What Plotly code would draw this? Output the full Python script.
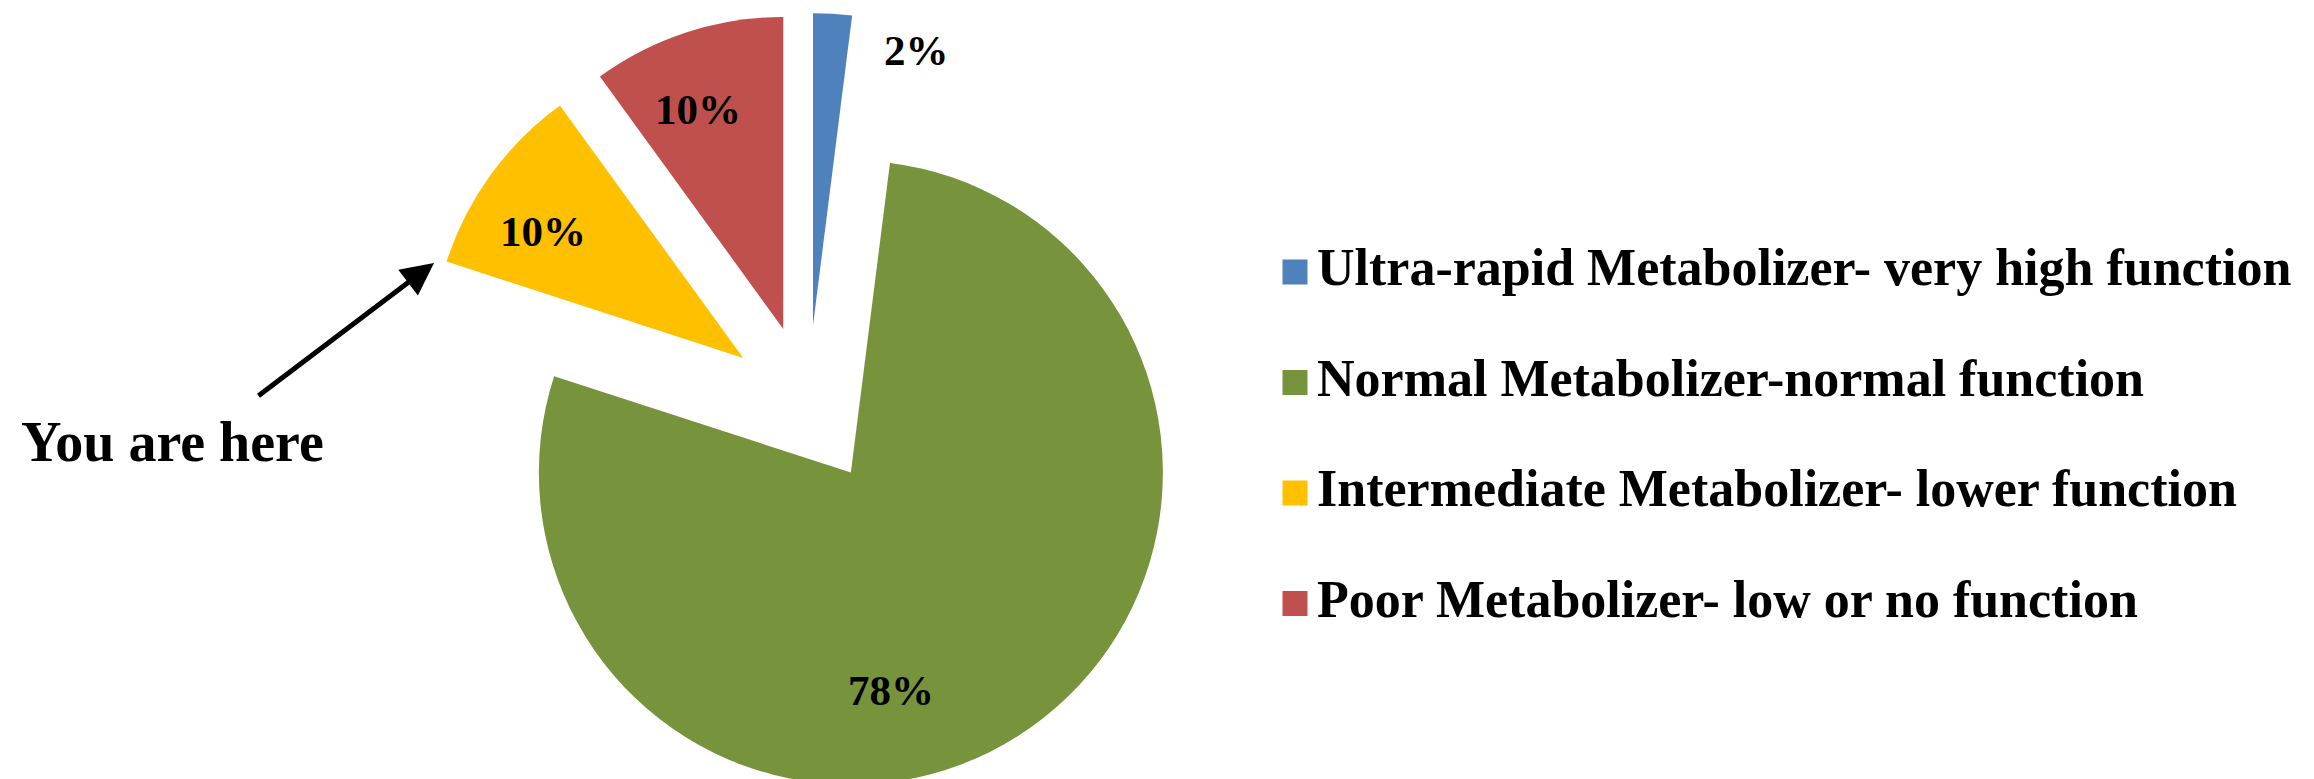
import math
import plotly.graph_objects as go

# ---- data ----
CATEGORIES = [
    "Ultra-rapid Metabolizer- very high function",
    "Normal Metabolizer-normal function",
    "Intermediate Metabolizer- lower function",
    "Poor Metabolizer- low or no function",
]
VALUES = [2, 78, 10, 10]
COLORS = ["#4F81BD", "#77933C", "#FFC000", "#C0504D"]
ANNOT_TEXT = "You are here"

# ---- layout constants (pixels) ----
W, H = 2314, 779
FONT = "Liberation Serif"
PIE_CX, PIE_CY = 800, 397      # centre of the un-exploded pie
PIE_R = 312                    # radius
EXPLODE = 80                   # distance each slice is pulled out
LABEL_PX = [(908, 42), (883, 682), (535, 223), (690, 101)]   # data-label spots
LEG_SQ_X, LEG_TXT_X = 1287, 1309
LEG_Y0, LEG_DY = 264, 110.5
ARROW_HEAD, ARROW_TAIL = (426, 255), (249, 389)
CAPTION_XY = (164, 434)

fig = go.Figure()

# exploded pie: one pie trace per slice, each shifted along its own mid-angle
total = sum(VALUES)
cum = 0.0
n = len(VALUES)
for i, v in enumerate(VALUES):
    a0 = 360.0 * cum / total
    cum += v
    a1 = 360.0 * cum / total
    mid = math.radians((a0 + a1) / 2)
    cx = PIE_CX + EXPLODE * math.sin(mid)
    cy = PIE_CY - EXPLODE * math.cos(mid)
    hw = PIE_R + 60
    dom_x = [(cx - hw) / W, (cx + hw) / W]
    dom_y = [1 - (cy + PIE_R) / H, 1 - (cy - PIE_R) / H]
    dom_y = [max(0.0, dom_y[0]), min(1.0, dom_y[1])]
    cols = [COLORS[j] if j == i else "rgba(0,0,0,0)" for j in range(n)]
    fig.add_trace(go.Pie(
        labels=CATEGORIES, values=VALUES, sort=False,
        direction="clockwise", rotation=0,
        marker=dict(colors=cols, line=dict(width=0)),
        textinfo="none", hoverinfo="label+percent",
        domain=dict(x=dom_x, y=dom_y), showlegend=False,
    ))

# legend: square swatches + labels
leg_y = [LEG_Y0 + k * LEG_DY for k in range(n)]
fig.add_trace(go.Scatter(
    x=[LEG_SQ_X] * n, y=leg_y, mode="markers",
    marker=dict(symbol="square", size=25, color=COLORS, line=dict(width=0)),
    showlegend=False, hoverinfo="skip", cliponaxis=False,
))
fig.add_trace(go.Scatter(
    x=[LEG_TXT_X] * n, y=leg_y, mode="text",
    text=CATEGORIES, textposition="middle right",
    textfont=dict(family=FONT, size=52, color="black", weight="bold"),
    showlegend=False, hoverinfo="skip", cliponaxis=False,
))
fig.update_xaxes(visible=False, range=[0, W], domain=[0, 1], fixedrange=True)
fig.update_yaxes(visible=False, range=[H, 0], domain=[0, 1], fixedrange=True)

# percentage data labels
for v, (px, py) in zip(VALUES, LABEL_PX):
    fig.add_annotation(
        x=px / W, y=1 - py / H, xref="paper", yref="paper",
        xanchor="center", yanchor="middle",
        text=f"{round(100 * v / total)}%", showarrow=False,
        font=dict(family=FONT, size=43, color="black", weight="bold"),
    )

# arrow and its caption
fig.add_annotation(
    x=ARROW_HEAD[0] / W, y=1 - ARROW_HEAD[1] / H, xref="paper", yref="paper",
    ax=ARROW_TAIL[0] - ARROW_HEAD[0], ay=ARROW_TAIL[1] - ARROW_HEAD[1],
    text="", showarrow=True,
    arrowhead=2, arrowsize=1.3, arrowwidth=5, arrowcolor="black",
)
fig.add_annotation(
    x=CAPTION_XY[0] / W, y=1 - CAPTION_XY[1] / H, xref="paper", yref="paper",
    xanchor="center", yanchor="middle",
    text=ANNOT_TEXT, showarrow=False,
    font=dict(family=FONT, size=56, color="black", weight="bold"),
)

fig.update_layout(
    width=W, height=H, margin=dict(l=0, r=0, t=0, b=0),
    paper_bgcolor="white", plot_bgcolor="white",
)

fig.write_html("out.html")
